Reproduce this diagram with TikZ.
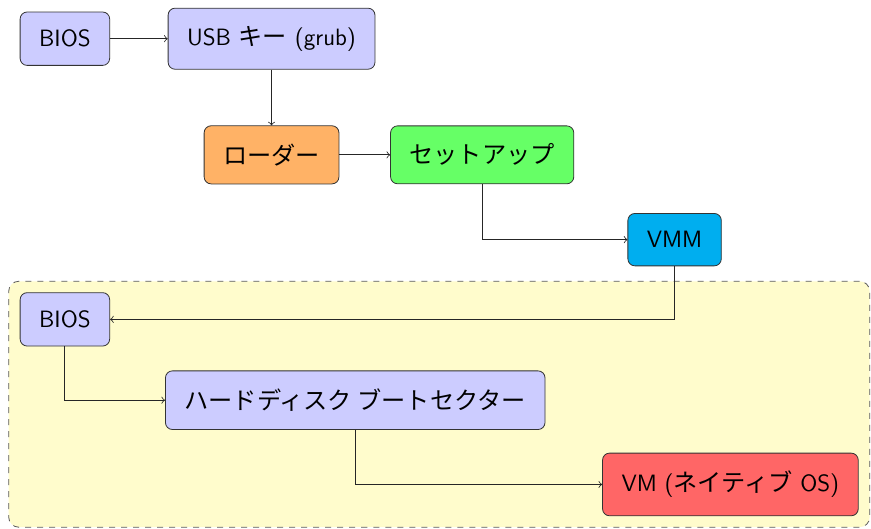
\documentclass[tikz,border=0pt]{standalone}
\usepackage{fontspec}
\newfontfamily\jpfont[Scale=1.025]{Noto Sans CJK JP}
\usetikzlibrary{fit,backgrounds}
\definecolor{vmmblue}{RGB}{0,174,239}

\begin{document}
\begin{tikzpicture}[font=\sffamily\fontsize{11.8}{14}\selectfont,
  box/.style={draw=black!80, rounded corners=3.5pt, inner xsep=9.5pt, inner ysep=9pt},
  link/.style={->, black!85}]
\useasboundingbox (0,0) rectangle (15.30,-9.28);

\node[box, fill=blue!20] (bios) at (1.14,-0.68) {BIOS};
\node[box, fill=blue!20] (usb) at (4.77,-0.68) {USB {\jpfont キー} (grub)};
\node[box, fill=orange!60] (loader) at (4.77,-2.72) {\jpfont ローダー};
\node[box, fill=green!60] (setup) at (8.47,-2.72) {\jpfont セットアップ};
\node[box, fill=vmmblue] (vmm) at (11.85,-4.21) {VMM};

\node[box, fill=blue!20] (vbios) at (1.14,-5.61) {BIOS};
\node[box, fill=blue!20] (hdd) at (6.24,-7.03) {\jpfont ハードディスク ブートセクター};
\node[box, fill=red!60] (vm) at (12.83,-8.51) {VM ({\jpfont ネイティブ} OS)};

% guest side
\begin{scope}[on background layer]
\node[draw=black!65, dashed, fill=yellow!20, rounded corners=5pt, inner sep=5.5pt,
  fit=(vbios) (hdd) (vm)] (guest) {};
\end{scope}

\draw[link] (bios) -- (usb);
\draw[link] (usb) -- (loader);
\draw[link] (loader) -- (setup);
\draw[link] (setup) |- (vmm);
\draw[link] (vmm) |- (vbios);
\draw[link] (vbios) |- (hdd);
\draw[link] (hdd) |- (vm);
\end{tikzpicture}
\end{document}
